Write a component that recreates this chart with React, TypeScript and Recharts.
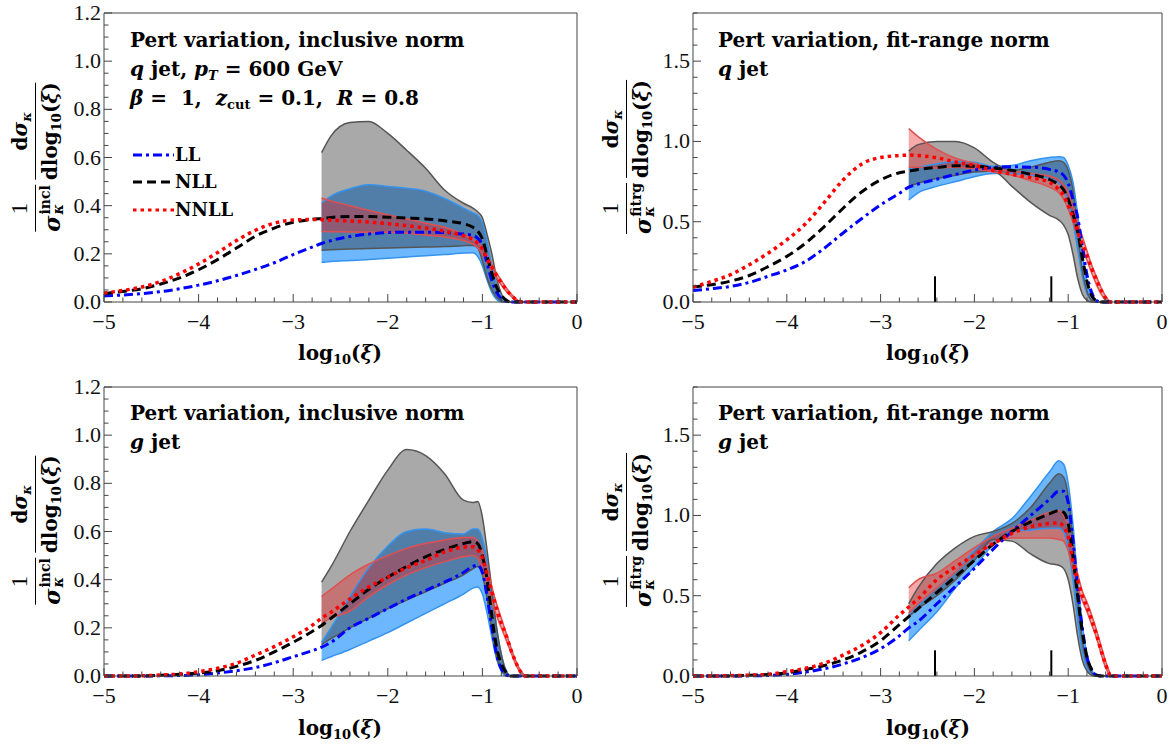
import React from 'react'
import { ComposedChart, Line, Area, XAxis, YAxis, ReferenceLine } from 'recharts'

// x grids (log10 xi)
const xLine = [-5, -4.8, -4.6, -4.4, -4.2, -4, -3.8, -3.6, -3.4, -3.2, -3, -2.8, -2.7, -2.6, -2.4, -2.2, -2, -1.8, -1.6, -1.4, -1.2, -1.1, -1.05, -1, -0.95, -0.9, -0.85, -0.8, -0.75, -0.7, -0.65, -0.6, -0.55, -0.5, -0.4, -0.2, 0]
const xBand = [-2.7, -2.6, -2.4, -2.2, -2, -1.8, -1.6, -1.4, -1.2, -1.1, -1.05, -1, -0.95, -0.9, -0.85, -0.8, -0.75, -0.7, -0.65, -0.6, -0.55]

// q jet, inclusive norm
const qInclLL = [0.025, 0.029, 0.035, 0.043, 0.055, 0.07, 0.088, 0.11, 0.135, 0.163, 0.197, 0.228, 0.243, 0.255, 0.272, 0.282, 0.288, 0.29, 0.29, 0.288, 0.282, 0.276, 0.265, 0.235, 0.16, 0.09, 0.04, 0.015, 0.003, 0, 0, 0, 0, 0, 0, 0, 0]
const qInclNLL = [0.035, 0.044, 0.055, 0.075, 0.1, 0.134, 0.176, 0.224, 0.273, 0.307, 0.331, 0.343, 0.347, 0.351, 0.355, 0.355, 0.352, 0.349, 0.345, 0.337, 0.325, 0.31, 0.295, 0.262, 0.19, 0.12, 0.062, 0.028, 0.008, 0, 0, 0, 0, 0, 0, 0, 0]
const qInclNNLL = [0.037, 0.048, 0.062, 0.085, 0.118, 0.158, 0.205, 0.255, 0.298, 0.327, 0.34, 0.343, 0.342, 0.34, 0.336, 0.332, 0.325, 0.317, 0.307, 0.294, 0.275, 0.26, 0.245, 0.22, 0.18, 0.145, 0.11, 0.08, 0.052, 0.03, 0.012, 0.002, 0, 0, 0, 0, 0]
const qInclGrayLo = [0.215, 0.217, 0.22, 0.222, 0.224, 0.226, 0.228, 0.23, 0.234, 0.235, 0.225, 0.17, 0.1, 0.05, 0.02, 0.005, 0, 0, 0, 0, 0]
const qInclGrayHi = [0.62, 0.69, 0.745, 0.75, 0.7, 0.63, 0.555, 0.465, 0.41, 0.39, 0.375, 0.35, 0.28, 0.2, 0.1, 0.035, 0.005, 0, 0, 0, 0]
const qInclBlueLo = [0.165, 0.168, 0.172, 0.176, 0.182, 0.187, 0.192, 0.197, 0.203, 0.205, 0.19, 0.15, 0.09, 0.04, 0.01, 0, 0, 0, 0, 0, 0]
const qInclBlueHi = [0.41, 0.44, 0.47, 0.487, 0.48, 0.472, 0.46, 0.43, 0.39, 0.37, 0.36, 0.33, 0.25, 0.15, 0.07, 0.02, 0.003, 0, 0, 0, 0]
const qInclRedLo = [0.293, 0.292, 0.291, 0.29, 0.29, 0.285, 0.278, 0.27, 0.255, 0.24, 0.225, 0.2, 0.165, 0.13, 0.1, 0.07, 0.045, 0.025, 0.008, 0, 0]
const qInclRedHi = [0.432, 0.42, 0.4, 0.38, 0.362, 0.345, 0.327, 0.31, 0.28, 0.26, 0.245, 0.225, 0.19, 0.155, 0.12, 0.09, 0.06, 0.035, 0.015, 0.002, 0]

// q jet, fit-range norm
const qFitLL = [0.072, 0.083, 0.097, 0.122, 0.16, 0.2, 0.253, 0.335, 0.43, 0.52, 0.605, 0.677, 0.715, 0.735, 0.765, 0.795, 0.822, 0.838, 0.842, 0.84, 0.826, 0.81, 0.79, 0.74, 0.64, 0.53, 0.35, 0.17, 0.06, 0.01, 0, 0, 0, 0, 0, 0, 0]
const qFitNLL = [0.093, 0.108, 0.13, 0.165, 0.22, 0.284, 0.366, 0.47, 0.584, 0.687, 0.76, 0.805, 0.815, 0.825, 0.838, 0.848, 0.846, 0.835, 0.82, 0.795, 0.763, 0.73, 0.7, 0.64, 0.55, 0.44, 0.28, 0.13, 0.04, 0.008, 0, 0, 0, 0, 0, 0, 0]
const qFitNNLL = [0.093, 0.128, 0.17, 0.232, 0.304, 0.387, 0.487, 0.62, 0.76, 0.86, 0.9, 0.912, 0.915, 0.912, 0.898, 0.872, 0.85, 0.82, 0.795, 0.775, 0.745, 0.7, 0.665, 0.6, 0.53, 0.44, 0.36, 0.29, 0.21, 0.14, 0.075, 0.025, 0, 0, 0, 0, 0]
const qFitGrayLo = [0.72, 0.74, 0.77, 0.79, 0.81, 0.815, 0.72, 0.62, 0.54, 0.51, 0.48, 0.42, 0.3, 0.15, 0.05, 0.01, 0, 0, 0, 0, 0]
const qFitGrayHi = [0.94, 0.98, 1.0, 1.0, 0.96, 0.87, 0.82, 0.84, 0.87, 0.88, 0.87, 0.82, 0.7, 0.45, 0.2, 0.07, 0.01, 0, 0, 0, 0]
const qFitBlueLo = [0.635, 0.68, 0.72, 0.75, 0.78, 0.8, 0.8, 0.79, 0.77, 0.74, 0.7, 0.62, 0.5, 0.33, 0.16, 0.05, 0.01, 0, 0, 0, 0]
const qFitBlueHi = [0.83, 0.84, 0.86, 0.875, 0.87, 0.845, 0.85, 0.88, 0.9, 0.905, 0.9, 0.85, 0.75, 0.55, 0.3, 0.12, 0.03, 0, 0, 0, 0]
const qFitRedLo = [0.84, 0.84, 0.835, 0.84, 0.83, 0.81, 0.79, 0.755, 0.715, 0.68, 0.64, 0.58, 0.5, 0.42, 0.34, 0.26, 0.18, 0.11, 0.05, 0.01, 0]
const qFitRedHi = [1.08, 1.03, 0.95, 0.895, 0.865, 0.83, 0.815, 0.8, 0.785, 0.76, 0.73, 0.68, 0.6, 0.5, 0.41, 0.32, 0.23, 0.16, 0.09, 0.035, 0]

// g jet, inclusive norm
const gInclLL = [0, 0, 0, 0.001, 0.002, 0.005, 0.012, 0.022, 0.035, 0.055, 0.08, 0.105, 0.12, 0.14, 0.2, 0.24, 0.28, 0.32, 0.355, 0.39, 0.43, 0.455, 0.46, 0.43, 0.33, 0.2, 0.09, 0.03, 0.005, 0, 0, 0, 0, 0, 0, 0, 0]
const gInclNLL = [0, 0, 0, 0.003, 0.007, 0.012, 0.022, 0.04, 0.065, 0.1, 0.14, 0.185, 0.21, 0.24, 0.3, 0.36, 0.41, 0.455, 0.495, 0.525, 0.55, 0.558, 0.55, 0.5, 0.4, 0.25, 0.12, 0.05, 0.015, 0, 0, 0, 0, 0, 0, 0, 0]
const gInclNNLL = [0, 0, 0.001, 0.004, 0.008, 0.018, 0.032, 0.053, 0.087, 0.122, 0.163, 0.21, 0.24, 0.265, 0.32, 0.37, 0.41, 0.45, 0.48, 0.515, 0.535, 0.537, 0.525, 0.49, 0.42, 0.35, 0.28, 0.22, 0.17, 0.11, 0.06, 0.02, 0, 0, 0, 0, 0]
const gInclGrayLo = [0.13, 0.155, 0.2, 0.24, 0.28, 0.315, 0.35, 0.385, 0.42, 0.445, 0.455, 0.42, 0.32, 0.19, 0.08, 0.025, 0.005, 0, 0, 0, 0]
const gInclGrayHi = [0.39, 0.454, 0.6, 0.73, 0.855, 0.94, 0.915, 0.84, 0.73, 0.72, 0.725, 0.66, 0.52, 0.36, 0.2, 0.09, 0.02, 0, 0, 0, 0]
const gInclBlueLo = [0.065, 0.08, 0.11, 0.145, 0.18, 0.22, 0.26, 0.3, 0.34, 0.365, 0.37, 0.34, 0.26, 0.16, 0.07, 0.02, 0, 0, 0, 0, 0]
const gInclBlueHi = [0.14, 0.2, 0.33, 0.45, 0.54, 0.6, 0.61, 0.595, 0.59, 0.61, 0.61, 0.57, 0.48, 0.35, 0.2, 0.09, 0.025, 0, 0, 0, 0]
const gInclRedLo = [0.218, 0.24, 0.27, 0.33, 0.38, 0.42, 0.45, 0.475, 0.495, 0.5, 0.49, 0.44, 0.38, 0.31, 0.25, 0.2, 0.15, 0.1, 0.05, 0.015, 0]
const gInclRedHi = [0.33, 0.36, 0.42, 0.465, 0.5, 0.53, 0.55, 0.565, 0.575, 0.575, 0.56, 0.52, 0.45, 0.37, 0.3, 0.24, 0.18, 0.12, 0.065, 0.025, 0]

// g jet, fit-range norm
const gFitLL = [0, 0, 0, 0.001, 0.003, 0.01, 0.025, 0.045, 0.075, 0.115, 0.17, 0.25, 0.3, 0.34, 0.45, 0.56, 0.67, 0.79, 0.9, 1.0, 1.1, 1.15, 1.15, 1.08, 0.85, 0.55, 0.3, 0.12, 0.04, 0.005, 0, 0, 0, 0, 0, 0, 0]
const gFitNLL = [0, 0, 0, 0.004, 0.01, 0.02, 0.04, 0.065, 0.1, 0.15, 0.22, 0.32, 0.37, 0.42, 0.52, 0.62, 0.72, 0.82, 0.9, 0.96, 1.01, 1.03, 1.02, 0.95, 0.75, 0.5, 0.28, 0.12, 0.04, 0.005, 0, 0, 0, 0, 0, 0, 0]
const gFitNNLL = [0, 0, 0.002, 0.005, 0.01, 0.027, 0.048, 0.08, 0.13, 0.19, 0.27, 0.38, 0.43, 0.48, 0.6, 0.68, 0.753, 0.826, 0.888, 0.93, 0.95, 0.954, 0.93, 0.867, 0.72, 0.6, 0.5, 0.43, 0.35, 0.26, 0.16, 0.07, 0.005, 0, 0, 0, 0]
const gFitGrayLo = [0.37, 0.42, 0.5, 0.6, 0.72, 0.85, 0.84, 0.76, 0.7, 0.69, 0.67, 0.6, 0.45, 0.25, 0.1, 0.03, 0.005, 0, 0, 0, 0]
const gFitGrayHi = [0.45, 0.55, 0.7, 0.8, 0.87, 0.9, 0.95, 1.05, 1.2, 1.26, 1.24, 1.12, 0.85, 0.5, 0.22, 0.08, 0.02, 0, 0, 0, 0]
const gFitBlueLo = [0.22, 0.28, 0.4, 0.55, 0.68, 0.82, 0.9, 0.91, 0.92, 0.92, 0.9, 0.8, 0.6, 0.35, 0.15, 0.05, 0.01, 0, 0, 0, 0]
const gFitBlueHi = [0.38, 0.44, 0.55, 0.65, 0.78, 0.9, 0.98, 1.12, 1.27, 1.34, 1.32, 1.2, 0.95, 0.6, 0.32, 0.13, 0.04, 0, 0, 0, 0]
const gFitRedLo = [0.39, 0.45, 0.55, 0.65, 0.75, 0.82, 0.86, 0.86, 0.86, 0.85, 0.84, 0.78, 0.66, 0.55, 0.47, 0.4, 0.32, 0.24, 0.14, 0.05, 0]
const gFitRedHi = [0.55, 0.6, 0.64, 0.72, 0.8, 0.87, 0.92, 0.97, 1.02, 1.03, 1.0, 0.93, 0.78, 0.64, 0.53, 0.46, 0.38, 0.29, 0.19, 0.09, 0.01]

// ticks
const xTicks = [-5, -4.8, -4.6, -4.4, -4.2, -4, -3.8, -3.6, -3.4, -3.2, -3, -2.8, -2.6, -2.4, -2.2, -2, -1.8, -1.6, -1.4, -1.2, -1, -0.8, -0.6, -0.4, -0.2, 0]
const xMajor = [-5, -4, -3, -2, -1, 0]
const yTicksIncl = [0, 0.05, 0.1, 0.15, 0.2, 0.25, 0.3, 0.35, 0.4, 0.45, 0.5, 0.55, 0.6, 0.65, 0.7, 0.75, 0.8, 0.85, 0.9, 0.95, 1, 1.05, 1.1, 1.15, 1.2]
const yMajorIncl = [0, 0.2, 0.4, 0.6, 0.8, 1, 1.2]
const yTicksFit = [0, 0.1, 0.2, 0.3, 0.4, 0.5, 0.6, 0.7, 0.8, 0.9, 1, 1.1, 1.2, 1.3, 1.4, 1.5, 1.6, 1.7, 1.8]
const yMajorFit = [0, 0.5, 1, 1.5]
const fitRange = [-2.42, -1.18]
const fitMarkHeight = 0.16

const SERIF = '"Liberation Serif", serif'
const WIDE = '"DejaVu Serif", serif'
const FRAME = '#454545'

const isMajor = (v: number, majors: number[]) => majors.some(m => Math.abs(m - v) < 1e-6)
const fmtX = (v: number) => (v === 0 ? '0' : '\u2212' + Math.abs(v))

const toLine = (ys: number[]) => xLine.map((x, i) => ({ x, y: ys[i] }))
const toBand = (lo: number[], hi: number[]) => xBand.map((x, i) => ({ x, r: [lo[i], hi[i]] }))

type PanelProps = {
  left: number
  top: number
  pw: number
  yMax: number
  yTicks: number[]
  yMajor: number[]
  ll: number[]
  nll: number[]
  nnll: number[]
  gray: number[][]
  blue: number[][]
  red: number[][]
  marks?: boolean
}

const Panel = ({ left, top, pw, yMax, yTicks, yMajor, ll, nll, nnll, gray, blue, red, marks }: PanelProps) => {
  const bands = [
    { d: toBand(blue[0], blue[1]), fill: 'rgb(30,144,255)', op: 0.65, edge: '#3393ee' },
    { d: toBand(gray[0], gray[1]), fill: 'rgb(40,40,40)', op: 0.4, edge: '#555555' },
    { d: toBand(red[0], red[1]), fill: 'rgb(235,40,40)', op: 0.4, edge: '#e05050' },
  ]
  return (
    <div style={{ position: 'absolute', left, top }}>
      <ComposedChart width={104 + pw + 13} height={375} margin={{ top: 12, right: 12, left: 64, bottom: 33 }}>
        <XAxis xAxisId="b" dataKey="x" type="number" domain={[-5, 0]} ticks={xTicks} interval={0}
          height={40} tickSize={0} tickMargin={0} tickLine={false} stroke={FRAME}
          tick={(p: any) => {
            const v = p.payload.value
            const M = isMajor(v, xMajor)
            return (
              <g>
                <line x1={p.x} x2={p.x} y1={p.y} y2={p.y - (M ? 8 : 4.5)} stroke={FRAME} />
                {M && <text x={p.x} y={p.y + 27} textAnchor="middle" fontSize={22} fontFamily={SERIF} fill="#111">{fmtX(v)}</text>}
              </g>
            )
          }} />
        <XAxis xAxisId="t" orientation="top" dataKey="x" type="number" domain={[-5, 0]} ticks={xTicks} interval={0}
          height={1} tickSize={0} tickMargin={0} tickLine={false} stroke={FRAME}
          tick={(p: any) => {
            const M = isMajor(p.payload.value, xMajor)
            return <line x1={p.x} x2={p.x} y1={p.y} y2={p.y + (M ? 8 : 4.5)} stroke={FRAME} />
          }} />
        <YAxis yAxisId="l" type="number" domain={[0, yMax]} ticks={yTicks} interval={0}
          width={40} tickSize={0} tickMargin={0} tickLine={false} stroke={FRAME}
          tick={(p: any) => {
            const v = p.payload.value
            const M = isMajor(v, yMajor)
            return (
              <g>
                <line x1={p.x} x2={p.x + (M ? 8 : 4.5)} y1={p.y} y2={p.y} stroke={FRAME} />
                {M && <text x={p.x - 3} y={p.y + 7} textAnchor="end" fontSize={22} fontFamily={SERIF} fill="#111">{v.toFixed(1)}</text>}
              </g>
            )
          }} />
        <YAxis yAxisId="r" orientation="right" type="number" domain={[0, yMax]} ticks={yTicks} interval={0}
          width={1} tickSize={0} tickMargin={0} tickLine={false} stroke={FRAME}
          tick={(p: any) => {
            const M = isMajor(p.payload.value, yMajor)
            return <line x1={p.x} x2={p.x - (M ? 8 : 4.5)} y1={p.y} y2={p.y} stroke={FRAME} />
          }} />
        {bands.map((b, i) => (
          <Area key={'f' + i} xAxisId="b" yAxisId="l" data={b.d} dataKey="r" type="monotone"
            fill={b.fill} fillOpacity={b.op} stroke="none" isAnimationActive={false} />
        ))}
        {bands.map((b, i) => (
          <Area key={'e' + i} xAxisId="b" yAxisId="l" data={b.d} dataKey="r" type="monotone"
            fill="none" stroke={b.edge} strokeWidth={1.5} isAnimationActive={false} />
        ))}
        <Line xAxisId="b" yAxisId="l" data={toLine(ll)} dataKey="y" type="monotone" dot={false}
          stroke="#0000ff" strokeWidth={3} strokeDasharray="9 4 3 4" isAnimationActive={false} />
        <Line xAxisId="b" yAxisId="l" data={toLine(nll)} dataKey="y" type="monotone" dot={false}
          stroke="#000000" strokeWidth={3} strokeDasharray="9 5" isAnimationActive={false} />
        <Line xAxisId="b" yAxisId="l" data={toLine(nnll)} dataKey="y" type="monotone" dot={false}
          stroke="#ff0000" strokeWidth={3.5} strokeDasharray="3.5 4" isAnimationActive={false} />
        {marks && fitRange.map(fx => (
          <ReferenceLine key={fx} xAxisId="b" yAxisId="l" segment={[{ x: fx, y: 0 }, { x: fx, y: fitMarkHeight }]}
            stroke="#000" strokeWidth={2} />
        ))}
      </ComposedChart>
    </div>
  )
}

const Txt = ({ x, y, size = 20, children }: any) => (
  <div style={{
    position: 'absolute', left: x, top: y - size / 2, fontSize: size, lineHeight: `${size}px`,
    fontFamily: WIDE, fontWeight: 'bold', whiteSpace: 'nowrap', color: '#000',
  }}>{children}</div>
)

const sub = { fontSize: '0.65em', verticalAlign: '-0.3em', lineHeight: 0 }

const XTitle = ({ cx, cy }: { cx: number; cy: number }) => (
  <div style={{
    position: 'absolute', left: cx, top: cy - 11, transform: 'translateX(-50%)', fontSize: 20, lineHeight: '22px',
    fontFamily: WIDE, fontWeight: 'bold', whiteSpace: 'nowrap',
  }}>log<span style={sub}>10</span>(<i>ξ</i>)</div>
)

const YTitle = ({ cx, cy, norm }: { cx: number; cy: number; norm: string }) => {
  const bar = '1.5px solid #000'
  return (
    <div style={{
      position: 'absolute', left: cx, top: cy, transform: 'translate(-50%,-50%) rotate(-90deg)',
      fontFamily: WIDE, fontSize: 20, fontWeight: 'bold', whiteSpace: 'nowrap', lineHeight: '22px',
      display: 'grid', gridTemplateColumns: 'auto auto', columnGap: 5,
    }}>
      <div style={{ textAlign: 'center', alignSelf: 'end', paddingBottom: 4, fontWeight: 'normal', fontFamily: SERIF, fontSize: 23 }}>1</div>
      <div style={{ textAlign: 'center', alignSelf: 'end', paddingBottom: 4 }}>d<i>σ</i><span style={sub}><i>κ</i></span></div>
      <div style={{ borderTop: bar, paddingTop: 3, display: 'flex', justifyContent: 'center', alignItems: 'center' }}>
        <i style={{ fontSize: 22 }}>σ</i>
        <span style={{ display: 'inline-flex', flexDirection: 'column', fontSize: 14, lineHeight: '13px', marginLeft: 1 }}>
          <span>{norm}</span><i>κ</i>
        </span>
      </div>
      <div style={{ borderTop: bar, paddingTop: 3, textAlign: 'center' }}>dlog<span style={sub}>10</span>(<i>ξ</i>)</div>
    </div>
  )
}

const LegendRow = ({ y, color, dash, label }: { y: number; color: string; dash: string; label: string }) => (
  <>
    <svg style={{ position: 'absolute', left: 133, top: y - 4 }} width={41} height={8}>
      <line x1={0} x2={41} y1={4} y2={4} stroke={color} strokeWidth={3} strokeDasharray={dash} />
    </svg>
    <Txt x={175} y={y} size={18}>{label}</Txt>
  </>
)

export default function App() {
  return (
    <div style={{ position: 'absolute', left: 0, top: 0, width: 1175, height: 747, background: '#fff', overflow: 'hidden' }}>
      <Panel left={0} top={0} pw={473} yMax={1.2} yTicks={yTicksIncl} yMajor={yMajorIncl}
        ll={qInclLL} nll={qInclNLL} nnll={qInclNNLL}
        gray={[qInclGrayLo, qInclGrayHi]} blue={[qInclBlueLo, qInclBlueHi]} red={[qInclRedLo, qInclRedHi]} />
      <Panel left={589} top={0} pw={469} yMax={1.8} yTicks={yTicksFit} yMajor={yMajorFit}
        ll={qFitLL} nll={qFitNLL} nnll={qFitNNLL}
        gray={[qFitGrayLo, qFitGrayHi]} blue={[qFitBlueLo, qFitBlueHi]} red={[qFitRedLo, qFitRedHi]} marks />
      <Panel left={0} top={374} pw={473} yMax={1.2} yTicks={yTicksIncl} yMajor={yMajorIncl}
        ll={gInclLL} nll={gInclNLL} nnll={gInclNNLL}
        gray={[gInclGrayLo, gInclGrayHi]} blue={[gInclBlueLo, gInclBlueHi]} red={[gInclRedLo, gInclRedHi]} />
      <Panel left={589} top={374} pw={469} yMax={1.8} yTicks={yTicksFit} yMajor={yMajorFit}
        ll={gFitLL} nll={gFitNLL} nnll={gFitNNLL}
        gray={[gFitGrayLo, gFitGrayHi]} blue={[gFitBlueLo, gFitBlueHi]} red={[gFitRedLo, gFitRedHi]} marks />

      <Txt x={130} y={40}>Pert variation, inclusive norm</Txt>
      <Txt x={130} y={69}><i>q</i> jet, <i>p</i><span style={sub}><i>T</i></span> = 600 GeV</Txt>
      <Txt x={130} y={98}><i>β</i> =&nbsp; 1,&nbsp; <i>z</i><span style={sub}>cut</span> = 0.1,&nbsp; <i>R</i> = 0.8</Txt>
      <LegendRow y={155} color="#0000ff" dash="9 4 3 4" label="LL" />
      <LegendRow y={182} color="#000000" dash="9 5" label="NLL" />
      <LegendRow y={210} color="#ff0000" dash="3.5 4" label="NNLL" />

      <Txt x={718} y={40}>Pert variation, fit-range norm</Txt>
      <Txt x={718} y={69}><i>q</i> jet</Txt>
      <Txt x={130} y={413}>Pert variation, inclusive norm</Txt>
      <Txt x={130} y={442}><i>g</i> jet</Txt>
      <Txt x={718} y={413}>Pert variation, fit-range norm</Txt>
      <Txt x={718} y={442}><i>g</i> jet</Txt>

      <XTitle cx={340} cy={353} />
      <XTitle cx={928} cy={353} />
      <XTitle cx={340} cy={728} />
      <XTitle cx={928} cy={728} />

      <YTitle cx={37} cy={157} norm="incl" />
      <YTitle cx={628} cy={157} norm="fitrg" />
      <YTitle cx={37} cy={530} norm="incl" />
      <YTitle cx={628} cy={530} norm="fitrg" />
    </div>
  )
}
